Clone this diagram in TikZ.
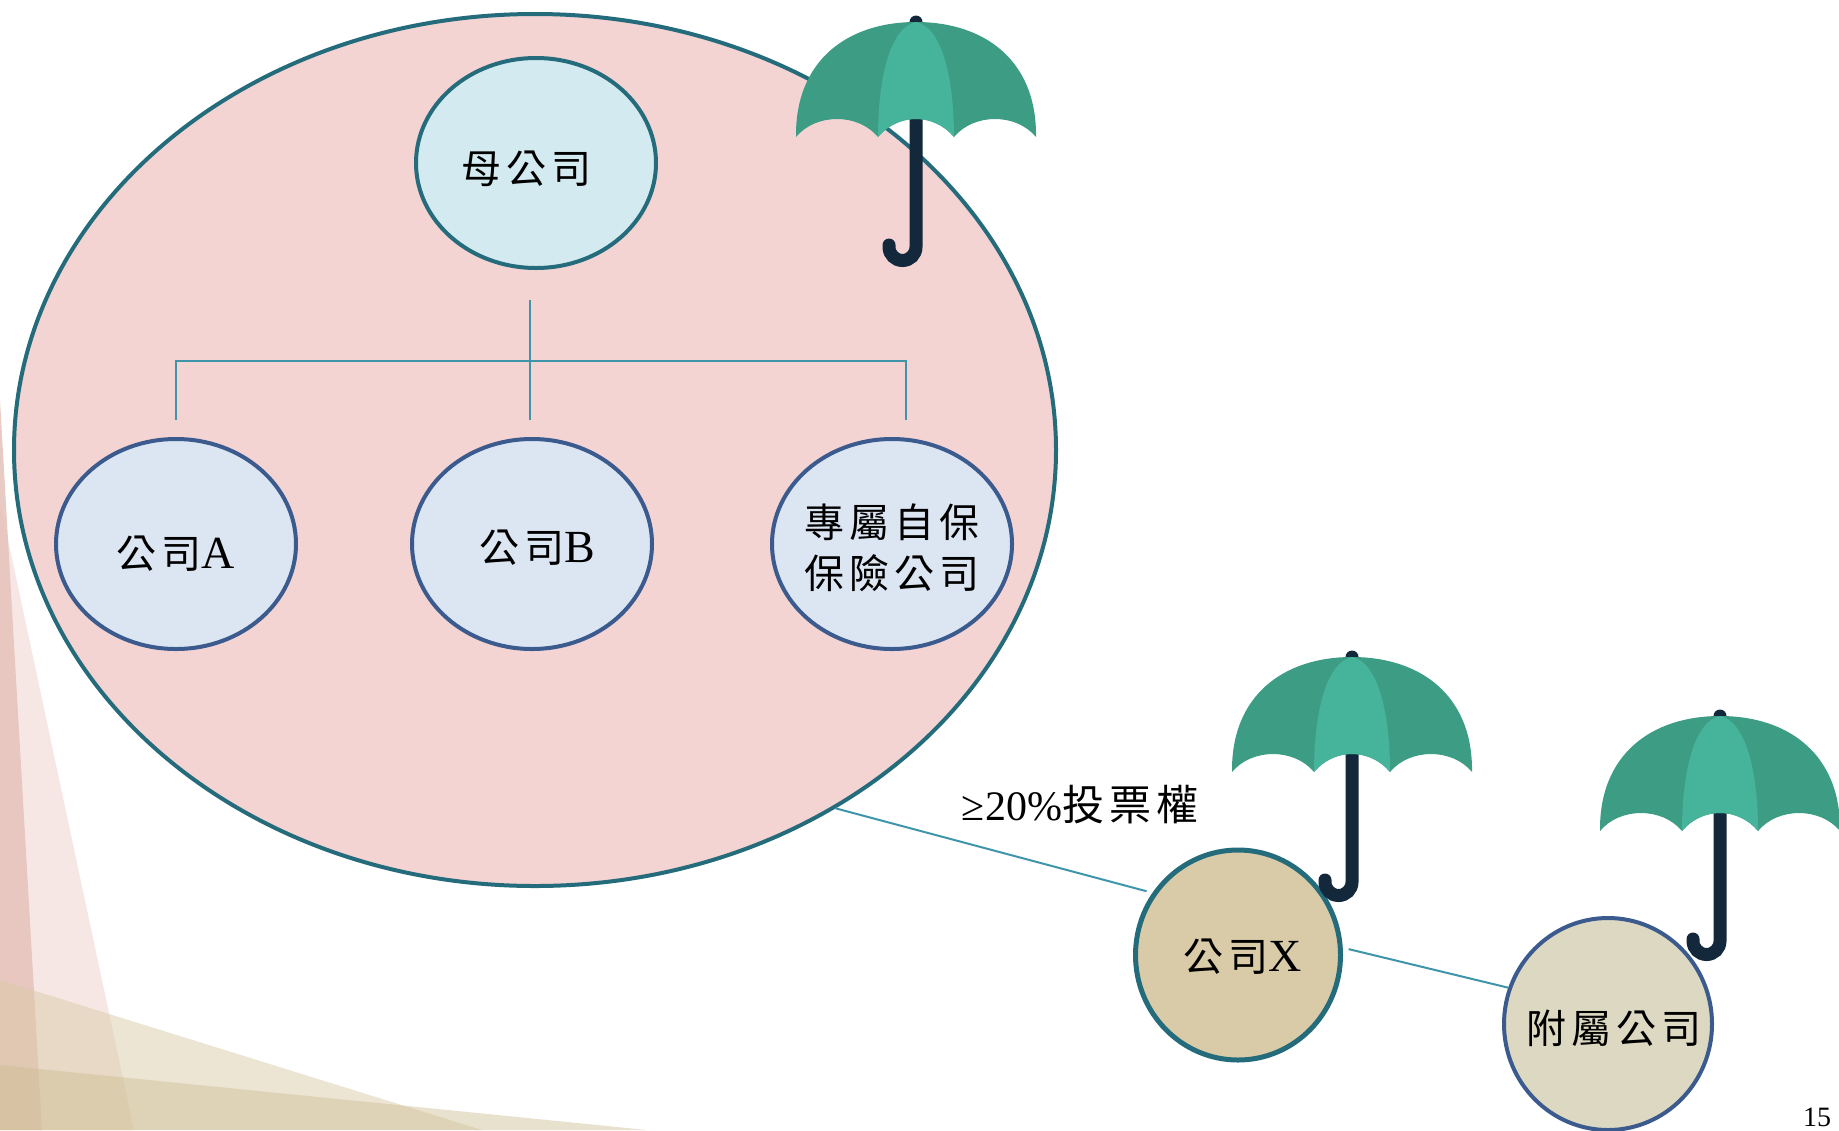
\documentclass[tikz,border=0pt]{standalone}
\usepackage{fontspec}
\setmainfont{Liberation Serif}
\newfontfamily\cjk{Noto Sans CJK TC}
\usetikzlibrary{shapes.geometric}
\definecolor{bigfill}{HTML}{F4D3D3}
\definecolor{tealborder}{HTML}{246C7B}
\definecolor{blueborder}{HTML}{3B5B8E}
\definecolor{momfill}{HTML}{D3EAF0}
\definecolor{subfill}{HTML}{DCE6F2}
\definecolor{xfill}{HTML}{D9CBA8}
\definecolor{afffill}{HTML}{DDD8C1}
\definecolor{linecol}{HTML}{3E95AA}
\definecolor{canopydark}{HTML}{3D9C84}
\definecolor{canopylight}{HTML}{46B39B}
\definecolor{handlecol}{HTML}{13283B}
\definecolor{pinkA}{HTML}{D9A89C}
\definecolor{pinkB}{HTML}{E8C4BC}
\definecolor{tanA}{HTML}{D9CBA8}
\definecolor{tanB}{HTML}{CDBD92}
\newcommand{\chsp}{\hspace{2.5pt}}
\newcommand{\lat}[1]{{\fontsize{23pt}{25pt}\selectfont #1}}
\begin{document}
\begin{tikzpicture}[x=0.5pt,y=-0.5pt,
  txt/.style={font=\fontsize{20pt}{25.5pt}\selectfont, text=black, inner sep=0pt, align=center},
  bigell/.style={ellipse, draw=tealborder, fill=bigfill, line width=2pt, inner sep=0pt, minimum width=521pt, minimum height=436pt},
  momell/.style={ellipse, draw=tealborder, fill=momfill, line width=2pt, inner sep=0pt, minimum width=120pt, minimum height=105pt},
  subell/.style={ellipse, draw=blueborder, fill=subfill, line width=2pt, inner sep=0pt, minimum width=120pt, minimum height=105pt},
  xell/.style={ellipse, draw=tealborder, fill=xfill, line width=2.5pt, inner sep=0pt, minimum width=102.5pt, minimum height=105pt},
  affell/.style={ellipse, draw=blueborder, fill=afffill, line width=2pt, inner sep=0pt, minimum width=104pt, minimum height=106pt},
  conn/.style={draw=linecol, line width=1pt},
  umbrella/.pic={
    \draw[handlecol, line width=6.5pt, line cap=round] (0,7) -- (0,232)
      .. controls (0,239.5) and (-6,245.5) .. (-13.5,245.5)
      .. controls (-21,245.5) and (-27,239.5) .. (-27,232) -- (-27,230);
    \fill[canopydark] (-120,122) .. controls (-121,45) and (-68,7) .. (0,7)
      .. controls (68,7) and (121,45) .. (120,122)
      .. controls (100,98) and (58,98) .. (38,122)
      .. controls (18,98) and (-18,98) .. (-38,122)
      .. controls (-58,98) and (-100,98) .. (-120,122) -- cycle;
    \fill[canopylight] (0,7) .. controls (-25,12) and (-38,60) .. (-38,122)
      .. controls (-18,98) and (18,98) .. (38,122)
      .. controls (38,60) and (25,12) .. (0,7) -- cycle;
  }]
\useasboundingbox (0,0) rectangle (1839,1130);
\clip (0,0) rectangle (1839,1130);
% background decoration
\fill[pinkA, opacity=0.6] (0,400) -- (42,1130) -- (0,1130) -- cycle;
\fill[pinkB, opacity=0.4] (0,502) -- (134,1130) -- (0,1130) -- cycle;
\fill[tanA, opacity=0.5] (0,980) -- (482,1130) -- (0,1130) -- cycle;
\fill[tanB, opacity=0.45] (0,1065) -- (647,1130) -- (0,1130) -- cycle;
% group
\node[bigell] (grp) at (535,450) {};
\node[momell, label={[txt, xshift=-5pt, yshift=-3pt]center:{\cjk 母\chsp 公\chsp 司}}] (mom) at (536,163) {};
\node[subell, label={[txt, yshift=-5pt]center:{{\cjk 公\chsp 司}\lat{A}}}] (A) at (176,544) {};
\node[subell, label={[txt, xshift=2.5pt, yshift=-2pt]center:{{\cjk 公\chsp 司}\lat{B}}}] (B) at (532,544) {};
\node[subell, label={[txt, yshift=-2pt]center:{\cjk 專\chsp 屬\chsp 自\chsp 保}\\{\cjk 保\chsp 險\chsp 公\chsp 司}}] (C) at (892,544) {};
\coordinate (mtop) at ([yshift=-15pt]mom.south);
\coordinate (btop) at ([xshift=-1pt,yshift=8.5pt]B.north);
\coordinate (atop) at ([yshift=8.5pt]A.north);
\coordinate (ctop) at ([xshift=7pt,yshift=8.5pt]C.north);
\draw[conn] (mtop -| btop) -- (btop);
\draw[conn] (atop) -- ++(0,-59) -| (ctop);
% outside companies
\node[xell, label={[txt, xshift=2.5pt, yshift=-1pt]center:{{\cjk 公\chsp 司}\lat{X}}}] (X) at (1238,955) {};
\node[affell, label={[txt, xshift=3pt, yshift=-2pt]center:{\cjk 附\chsp 屬\chsp 公\chsp 司}}] (aff) at (1608,1024) {};
\draw[conn, shorten >=3pt] (grp.-50) -- (X.144);
\draw[conn, shorten <=3pt] (X.4) -- (aff.160);
\node[txt, font=\fontsize{21pt}{25pt}\selectfont] (lab) at (1080,805) {≥20\%{\cjk 投\chsp 票\chsp 權}};
% umbrellas
\pic at (916,15) {umbrella};
\pic at (1352,650) {umbrella};
\pic at (1720,709) {umbrella};
% page number
\node[font=\fontsize{14pt}{16pt}\selectfont] (pg) at (1817,1117) {15};
\end{tikzpicture}
\end{document}
